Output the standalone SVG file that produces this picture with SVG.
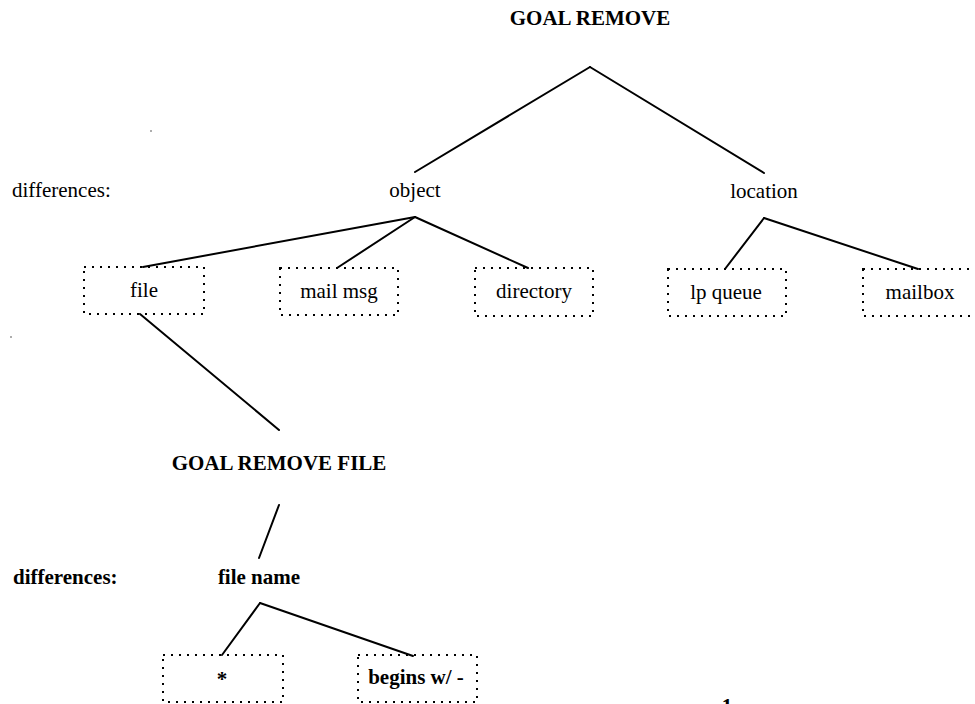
<svg xmlns="http://www.w3.org/2000/svg" width="975" height="704" viewBox="0 0 975 704">
<style>
text{font-family:"Liberation Serif","Times New Roman",serif;font-size:21px;fill:#000;text-anchor:middle}
.b{font-weight:bold}
.l{text-anchor:start}
.box{fill:none;stroke:#000;stroke-width:2;stroke-dasharray:2 6}
.c line{stroke:#000;stroke-width:2;stroke-linecap:round}
</style>
<rect width="975" height="704" fill="#fff"/>
<g class="c" id="connectors">
<line x1="590" y1="67" x2="415" y2="172"/>
<line x1="590" y1="67" x2="764" y2="173"/>
<line x1="415" y1="217" x2="143" y2="267"/>
<line x1="415" y1="217" x2="337" y2="268"/>
<line x1="415" y1="217" x2="528" y2="268"/>
<line x1="764" y1="218" x2="725" y2="269"/>
<line x1="764" y1="218" x2="918" y2="269"/>
<line x1="140" y1="314" x2="279" y2="430"/>
<line x1="279" y1="505" x2="259" y2="558"/>
<line x1="260" y1="603" x2="222" y2="655"/>
<line x1="260" y1="603" x2="413" y2="656"/>
</g>
<g id="goal-remove"><text class="b" x="590" y="25">GOAL REMOVE</text></g>
<g id="differences-1"><text class="l" x="12" y="197">differences:</text></g>
<g id="object"><text x="415" y="197">object</text></g>
<g id="location"><text x="764" y="198">location</text></g>
<g id="file"><rect class="box" x="84" y="267" width="120" height="47"/><text x="144" y="297">file</text></g>
<g id="mail-msg"><rect class="box" x="280" y="268" width="118" height="47"/><text x="339" y="298">mail msg</text></g>
<g id="directory"><rect class="box" x="475" y="268" width="118" height="48"/><text x="534" y="298">directory</text></g>
<g id="lp-queue"><rect class="box" x="668" y="269" width="118" height="47"/><text x="726" y="299">lp queue</text></g>
<g id="mailbox"><rect class="box" x="863" y="269" width="122" height="47"/><text x="920" y="299">mailbox</text></g>
<g id="goal-remove-file"><text class="b" x="279" y="470">GOAL REMOVE FILE</text></g>
<g id="differences-2"><text class="b l" x="13" y="584">differences:</text></g>
<g id="file-name"><text class="b" x="259" y="584">file name</text></g>
<g id="star"><rect class="box" x="163" y="655" width="120" height="47"/><text class="b" x="222" y="686">*</text></g>
<g id="begins"><rect class="box" x="358" y="655" width="119" height="47"/><text class="b" x="416" y="684">begins w/ -</text></g>
<g id="page-number"><text class="b" x="727" y="713">1</text></g>
<circle cx="151" cy="131" r="0.8" fill="#444"/>
<circle cx="11" cy="337" r="0.8" fill="#444"/>
</svg>
